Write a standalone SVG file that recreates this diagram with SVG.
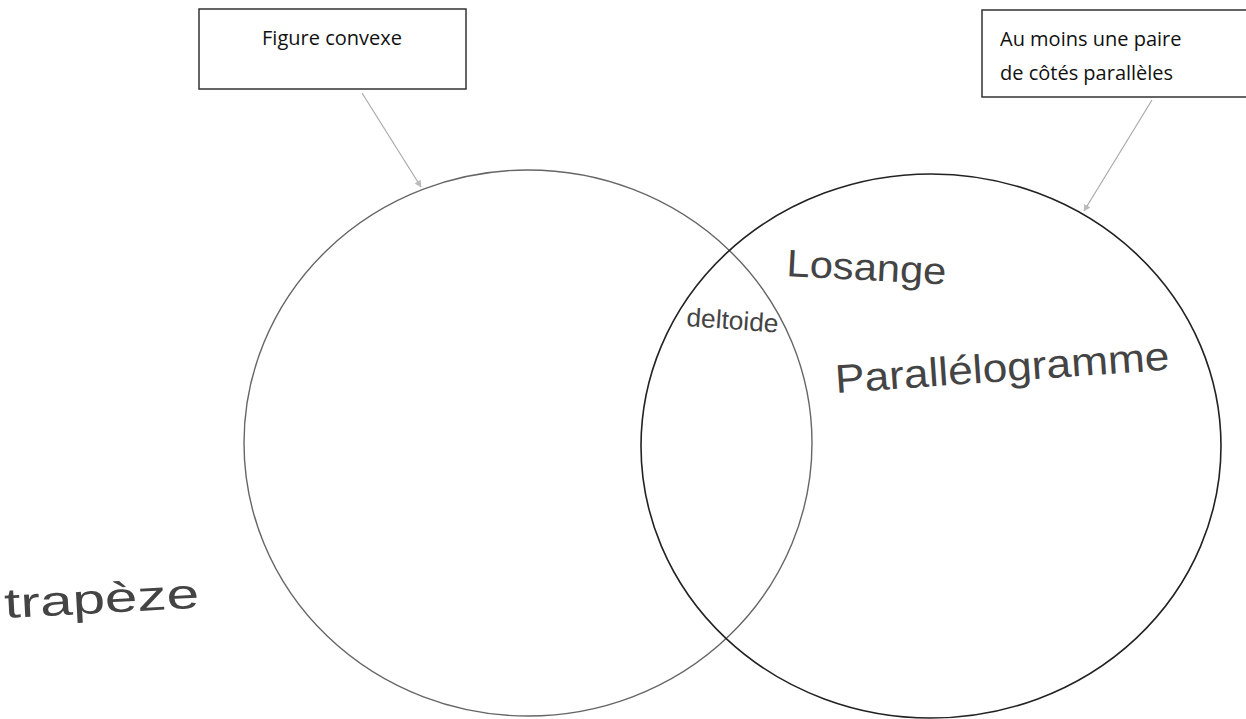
<svg xmlns="http://www.w3.org/2000/svg" width="1246" height="719" viewBox="0 0 1246 719">
<style>
.box{fill:#fff;stroke:#333;stroke-width:1.5}
.lbl{font-family:"Open Sans","Liberation Sans",sans-serif;font-size:20px;fill:#111}
.hand{font-family:"Liberation Sans",sans-serif;fill:#444;font-weight:normal}
.arr{stroke:#aaa;stroke-width:1.2;fill:none;marker-end:url(#ah)}
</style>
<defs>
<marker id="ah" viewBox="0 0 10 10" refX="9" refY="5" markerWidth="7" markerHeight="7" orient="auto" markerUnits="userSpaceOnUse">
<path d="M0,0 L10,5 L0,10 z" fill="#bbb"/>
</marker>
</defs>
<rect width="1246" height="719" fill="#fff"/>
<g id="circle-convexe">
<ellipse cx="528" cy="443" rx="284" ry="273" fill="none" stroke="#666" stroke-width="1.4"/>
</g>
<g id="circle-paralleles">
<ellipse cx="931" cy="446" rx="290" ry="272" fill="none" stroke="#222" stroke-width="1.6"/>
</g>
<g id="box-convexe">
<rect class="box" x="199" y="9" width="267" height="80"/>
<text class="lbl" x="332" y="45" text-anchor="middle">Figure convexe</text>
</g>
<g id="box-paralleles">
<rect class="box" x="982" y="10" width="280" height="87"/>
<text class="lbl" x="1000" y="46">Au moins une paire</text>
<text class="lbl" x="1000" y="80">de côtés parallèles</text>
</g>
<g id="connectors">
<line class="arr" x1="362" y1="93" x2="421" y2="187"/>
<line class="arr" x1="1152" y1="100" x2="1084" y2="211"/>
</g>
<g id="deltoide">
<text class="hand" x="686" y="326" font-size="26" textLength="92" lengthAdjust="spacingAndGlyphs" fill="#333" transform="rotate(4 686 326)">deltoide</text>
</g>
<g id="losange">
<text class="hand" x="786" y="276" font-size="38" textLength="160" lengthAdjust="spacingAndGlyphs" transform="rotate(3 786 276)">Losange</text>
</g>
<g id="parallelogramme">
<text class="hand" x="836" y="393" font-size="40" textLength="335" lengthAdjust="spacingAndGlyphs" transform="rotate(-4 836 393)">Parallélogramme</text>
</g>
<g id="trapeze">
<text class="hand" x="5" y="618" font-size="42" textLength="195" lengthAdjust="spacingAndGlyphs" transform="rotate(-3 5 618)">trapèze</text>
</g>
</svg>
